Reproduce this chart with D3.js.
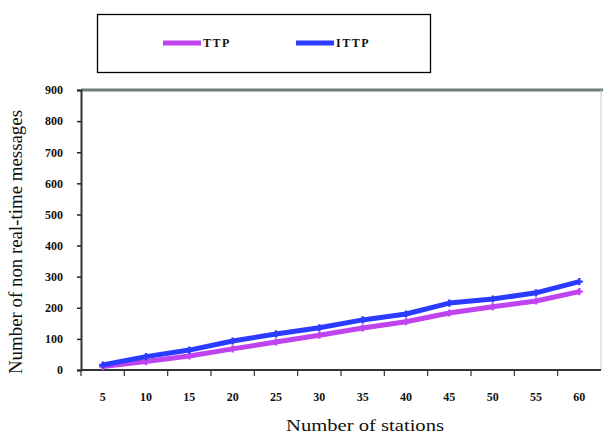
<!DOCTYPE html>
<html>
<head>
<meta charset="utf-8">
<script src="https://d3js.org/d3.v7.min.js"></script>
<style>
  body { margin: 0; background: #fff; }
  svg { display: block; font-family: "Liberation Serif", "Times New Roman", serif; }
</style>
</head>
<body>
<div id="chart"></div>
<script>
// data
var stations = ["5", "10", "15", "20", "25", "30", "35", "40", "45", "50", "55", "60"];
var ttp  = [11, 27, 45, 68, 90, 112, 135, 155, 183, 203, 222, 252];
var ittp = [16, 43, 64, 93, 116, 136, 161, 180, 215, 228, 248, 284];
var yTicks = [0, 100, 200, 300, 400, 500, 600, 700, 800, 900];

var W = 603, H = 436;
var margin = {top: 90, right: 2, bottom: 66, left: 81};
var width = W - margin.left - margin.right,
    height = H - margin.top - margin.bottom;

var svg = d3.select("#chart")
  .append("svg")
    .attr("width", W)
    .attr("height", H);

var g = svg.append("g")
    .attr("transform", "translate(" + margin.left + "," + margin.top + ")");

var x = d3.scaleBand()
  .domain(stations)
  .range([0, width]);

var y = d3.scaleLinear()
  .domain([0, 900])
  .range([height, 0]);

// plot frame: grey top, light right edge
g.append("line")
  .attr("x1", 0).attr("x2", width + 2)
  .attr("y1", 0).attr("y2", 0)
  .attr("stroke", "#6e7e7e")
  .attr("stroke-width", 3);
g.append("line")
  .attr("x1", width).attr("x2", width)
  .attr("y1", 0).attr("y2", height)
  .attr("stroke", "#c8c8c8")
  .attr("stroke-width", 1);

// Y axis
var yAxis = g.append("g")
  .call(d3.axisLeft(y).tickValues(yTicks).tickSize(4).tickPadding(14));
yAxis.select(".domain").attr("stroke", "#333").attr("stroke-width", 2);
yAxis.selectAll(".tick line").attr("stroke", "#222").attr("stroke-width", 1.5);
yAxis.selectAll("text")
  .style("font-family", "Liberation Serif, serif")
  .style("font-weight", "bold")
  .style("font-size", "12px")
  .attr("fill", "#111");

// X axis, ticks on category boundaries
var xAxis = g.append("g")
  .attr("transform", "translate(0," + height + ")");
xAxis.append("line")
  .attr("x1", 0).attr("x2", width)
  .attr("y1", 0).attr("y2", 0)
  .attr("stroke", "#333").attr("stroke-width", 2);
xAxis.selectAll(".xtick")
  .data(stations)
  .enter().append("line")
  .attr("x1", function(d) { return x(d); })
  .attr("x2", function(d) { return x(d); })
  .attr("y1", 0).attr("y2", 6)
  .attr("stroke", "#333").attr("stroke-width", 1.2);
xAxis.selectAll(".xlab")
  .data(stations)
  .enter().append("text")
  .attr("x", function(d) { return x(d) + x.bandwidth() / 2; })
  .attr("y", 31)
  .attr("text-anchor", "middle")
  .style("font-weight", "bold")
  .style("font-size", "12px")
  .attr("fill", "#111")
  .text(function(d) { return d; });

// lines
var series = [
  {name: "TTP", values: ttp, color: "#c043f0"},
  {name: "ITTP", values: ittp, color: "#2b3bff"}
];

var line = d3.line()
  .x(function(d, i) { return x(stations[i]) + x.bandwidth() / 2; })
  .y(function(d) { return y(d); });

series.forEach(function(s) {
  g.append("path")
    .datum(s.values)
    .attr("fill", "none")
    .attr("stroke", s.color)
    .attr("stroke-width", 5)
    .attr("stroke-linejoin", "round")
    .attr("d", line);

  g.selectAll(".m-" + s.name)
    .data(s.values)
    .enter().append("path")
    .attr("d", d3.symbol().type(d3.symbolCross).size(28))
    .attr("transform", function(d, i) {
      return "translate(" + (x(stations[i]) + x.bandwidth() / 2) + "," + y(d) + ")";
    })
    .attr("fill", s.color);
});

// legend box
svg.append("rect")
  .attr("x", 97.5).attr("y", 14.5)
  .attr("width", 333).attr("height", 58)
  .attr("fill", "none")
  .attr("stroke", "#000")
  .attr("stroke-width", 1.3);

var legendX = [163, 296];
series.forEach(function(s, i) {
  svg.append("line")
    .attr("x1", legendX[i]).attr("x2", legendX[i] + 38)
    .attr("y1", 43).attr("y2", 43)
    .attr("stroke", s.color)
    .attr("stroke-width", 5);
  svg.append("text")
    .attr("x", legendX[i] + 40)
    .attr("y", 47)
    .style("font-weight", "bold")
    .style("font-size", "12px")
    .style("letter-spacing", "1.5px")
    .attr("fill", "#111")
    .text(s.name);
});

// axis titles
svg.append("text")
  .attr("x", 365)
  .attr("y", 431)
  .attr("text-anchor", "middle")
  .attr("textLength", 158)
  .attr("lengthAdjust", "spacingAndGlyphs")
  .style("font-size", "17px")
  .attr("fill", "#111")
  .text("Number of stations");

svg.append("text")
  .attr("transform", "translate(22,242) rotate(-90)")
  .attr("text-anchor", "middle")
  .attr("textLength", 264)
  .attr("lengthAdjust", "spacingAndGlyphs")
  .style("font-size", "18px")
  .attr("fill", "#111")
  .text("Number of non real-time messages");
</script>
</body>
</html>
